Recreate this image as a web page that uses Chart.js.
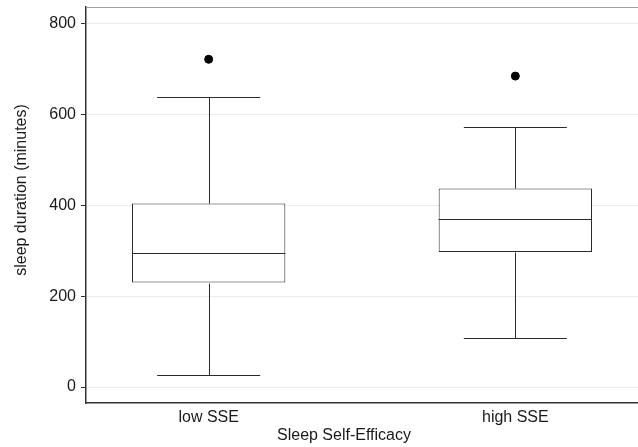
<!DOCTYPE html>
<html>
<head>
<meta charset="utf-8">
<script src="https://cdn.jsdelivr.net/npm/chart.js@4"></script>
<style>
  html, body { margin: 0; padding: 0; background: #fff; }
  #wrap { width: 638px; height: 447px; }
</style>
</head>
<body>
<div id="wrap"><canvas id="boxplot"></canvas></div>
<script>
// data
const categories = ['low SSE', 'high SSE']
const whiskerLow = [26, 108]
const q1 = [230, 297]
const median = [294, 370]
const q3 = [404, 437]
const whiskerHigh = [639, 572]
const outliers = [721, 684]
const yTicks = [0, 200, 400, 600, 800]

const ink = '#2b2b2b'
const capHalf = 0.168   // whisker cap half width, in category units

// whiskers + median, drawn through the chart scales
const boxExtras = {
  id: 'boxExtras',
  afterDatasetsDraw(chart) {
    const {ctx, scales: {x, y}} = chart
    ctx.save()
    ctx.strokeStyle = ink
    ctx.lineWidth = 1
    categories.forEach((c, i) => {
      const pos = i + 1
      const cx = Math.round(x.getPixelForValue(pos)) + 0.5
      const seg = (x1, y1, x2, y2) => {
        ctx.beginPath(); ctx.moveTo(x1, y1); ctx.lineTo(x2, y2); ctx.stroke()
      }
      const py = v => Math.round(y.getPixelForValue(v)) + 0.5
      seg(cx, py(whiskerLow[i]), cx, py(q1[i]))
      seg(cx, py(q3[i]), cx, py(whiskerHigh[i]))
      seg(x.getPixelForValue(pos - capHalf), py(whiskerLow[i]), x.getPixelForValue(pos + capHalf), py(whiskerLow[i]))
      seg(x.getPixelForValue(pos - capHalf), py(whiskerHigh[i]), x.getPixelForValue(pos + capHalf), py(whiskerHigh[i]))
      // median across the box
      const bar = chart.getDatasetMeta(0).data[i]
      seg(bar.x - bar.width / 2, py(median[i]), bar.x + bar.width / 2, py(median[i]))
    })
    // panel top edge
    ctx.strokeStyle = '#a0a0a0'
    ctx.beginPath()
    ctx.moveTo(chart.chartArea.left, chart.chartArea.top + 0.5)
    ctx.lineTo(chart.width, chart.chartArea.top + 0.5)
    ctx.stroke()
    ctx.restore()
  }
}

// axis titles in the original sit a bit off the panel centre
const titleShift = {
  id: 'titleShift',
  beforeDraw(chart) {
    const {x, y} = chart.scales
    if (!y._shifted) {
      const drawY = y.drawTitle
      y.drawTitle = function () { const b = this.bottom; this.bottom = b - 30; drawY.call(this); this.bottom = b }
      y._shifted = true
    }
    if (!x._shifted) {
      const drawX = x.drawTitle
      x.drawTitle = function () { const r = this.right; this.right = r - 36; drawX.call(this); this.right = r }
      x._shifted = true
    }
  }
}

const ctx = document.getElementById('boxplot')

new Chart(ctx, {
  type: 'bar',
  data: {
    datasets: [{
      label: 'box',
      data: categories.map((c, i) => ({x: i + 1, y: [q1[i], q3[i]]})),
      backgroundColor: '#ffffff',
      borderColor: ink,
      borderWidth: 1,
      borderSkipped: false,
      barPercentage: 0.5,
      categoryPercentage: 1.0,
      grouped: false
    }, {
      type: 'scatter',
      label: 'outliers',
      data: categories.map((c, i) => ({x: i + 1, y: outliers[i]})),
      backgroundColor: '#000000',
      borderColor: '#000000',
      pointRadius: 4,
      pointHoverRadius: 4
    }]
  },
  options: {
    responsive: true,
    maintainAspectRatio: false,
    animation: false,
    layout: { autoPadding: false, padding: { top: 7, left: 8, right: 0, bottom: 0 } },
    plugins: { legend: { display: false }, tooltip: { enabled: false } },
    scales: {
      x: {
        type: 'linear',
        offset: false,
        min: 0.6,
        max: 2.4,
        afterBuildTicks: scale => { scale.ticks = categories.map((c, i) => ({value: i + 1})) },
        afterFit: scale => { scale.height = 44; scale.paddingLeft = 0; scale.paddingRight = 0 },
        grid: { display: false, drawTicks: false, offset: false },
        border: { display: true, color: '#333333', width: 1.5 },
        ticks: {
          padding: 5,
          maxRotation: 0,
          color: '#1a1a1a',
          font: { family: 'Liberation Sans', size: 16 },
          callback: v => categories[v - 1]
        },
        title: {
          display: true,
          text: 'Sleep Self-Efficacy',
          color: '#1a1a1a',
          font: { family: 'Liberation Sans', size: 16 },
          padding: { top: 0, bottom: 2 }
        }
      },
      y: {
        min: -35,
        max: 836,
        afterBuildTicks: scale => { scale.ticks = yTicks.map(v => ({value: v})) },
        afterFit: scale => { scale.width = 78; scale.paddingTop = 0; scale.paddingBottom = 0 },
        grid: { color: '#ebebeb', tickColor: '#333333', tickLength: 5, lineWidth: 1 },
        border: { display: true, color: '#333333', width: 1.5 },
        ticks: {
          padding: 5,
          color: '#1a1a1a',
          font: { family: 'Liberation Sans', size: 16 }
        },
        title: {
          display: true,
          text: 'sleep duration (minutes)',
          color: '#1a1a1a',
          font: { family: 'Liberation Sans', size: 16 },
          padding: { top: 4, bottom: 4 }
        }
      }
    }
  },
  plugins: [boxExtras, titleShift]
})
</script>
</body>
</html>
